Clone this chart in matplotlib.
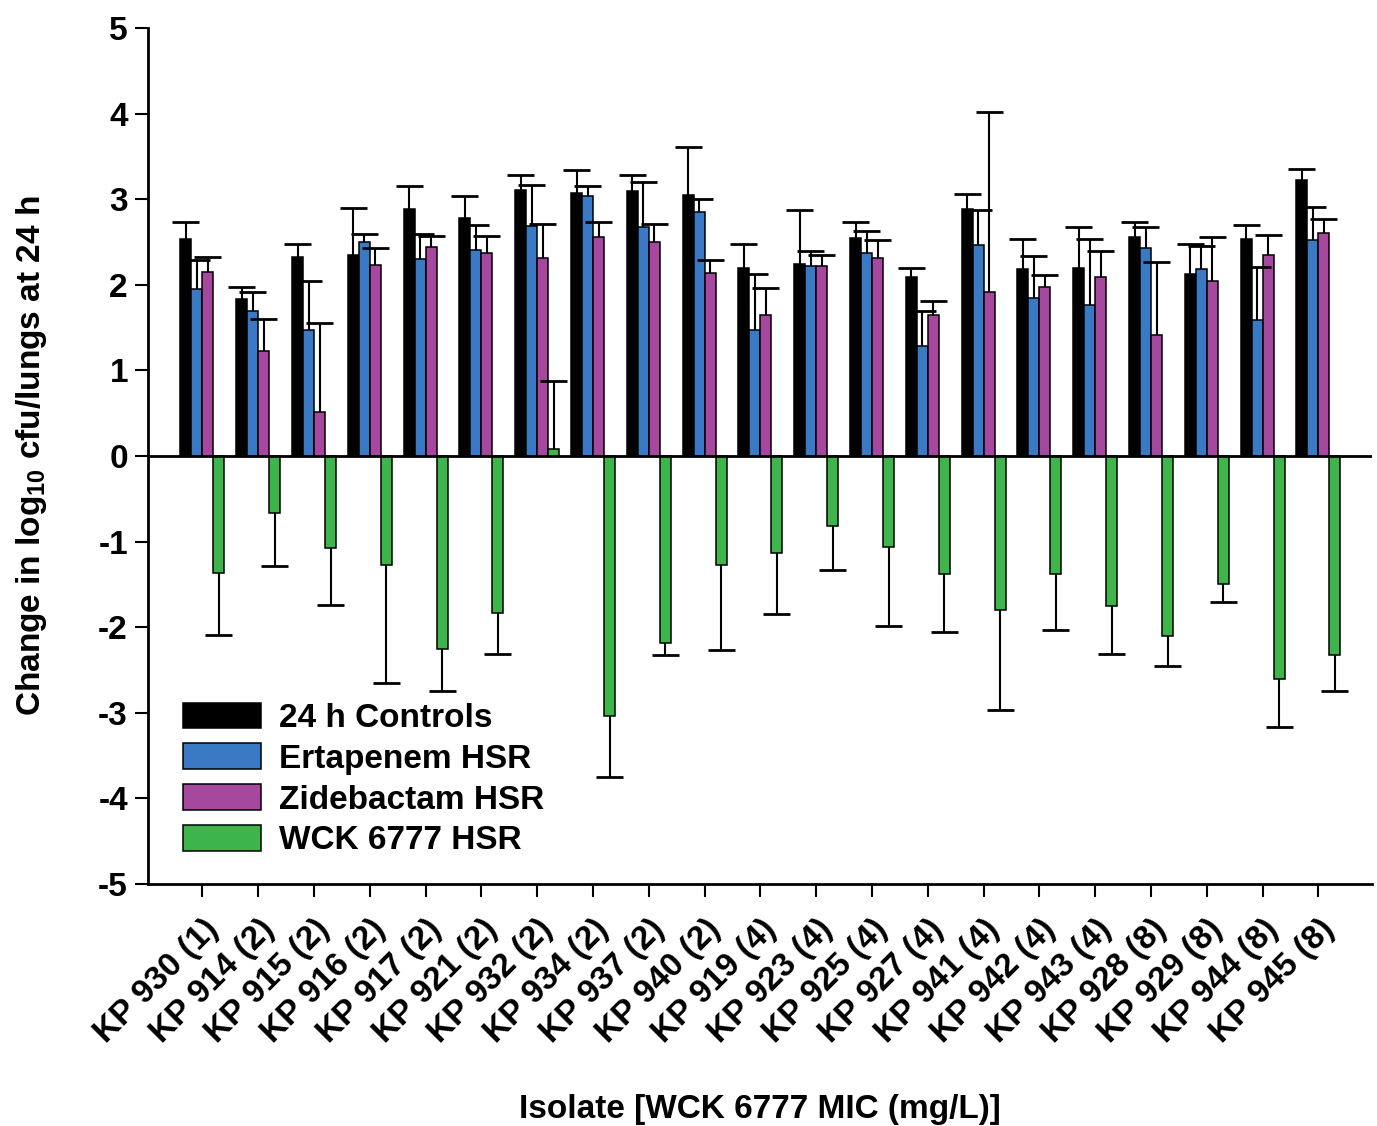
import matplotlib
matplotlib.use("Agg")
import matplotlib.pyplot as plt
import numpy as np

plt.rcParams['font.family'] = ['Liberation Sans', 'DejaVu Sans']
plt.rcParams['font.weight'] = 'bold'
plt.rcParams['axes.unicode_minus'] = False
plt.rcParams['mathtext.fontset'] = 'custom'
plt.rcParams['mathtext.rm'] = 'Liberation Sans:bold'
plt.rcParams['mathtext.bf'] = 'Liberation Sans:bold'

isolates = ["KP 930 (1)", "KP 914 (2)", "KP 915 (2)", "KP 916 (2)", "KP 917 (2)",
            "KP 921 (2)", "KP 932 (2)", "KP 934 (2)", "KP 937 (2)", "KP 940 (2)",
            "KP 919 (4)", "KP 923 (4)", "KP 925 (4)", "KP 927 (4)", "KP 941 (4)",
            "KP 942 (4)", "KP 943 (4)", "KP 928 (8)", "KP 929 (8)", "KP 944 (8)",
            "KP 945 (8)"]

series_names = ["24 h Controls", "Ertapenem HSR", "Zidebactam HSR", "WCK 6777 HSR"]

controls = [2.53, 1.84, 2.33, 2.35, 2.89, 2.78, 3.11, 3.07, 3.10, 3.05, 2.20,
            2.24, 2.55, 2.09, 2.89, 2.18, 2.20, 2.56, 2.13, 2.54, 3.22]
controls_sd = [0.20, 0.13, 0.15, 0.55, 0.26, 0.26, 0.17, 0.27, 0.18, 0.56, 0.28,
               0.63, 0.18, 0.11, 0.17, 0.35, 0.47, 0.17, 0.35, 0.16, 0.13]

ertapenem = [1.95, 1.70, 1.47, 2.50, 2.30, 2.41, 2.69, 3.04, 2.68, 2.85, 1.47,
             2.22, 2.37, 1.29, 2.47, 1.85, 1.76, 2.43, 2.18, 1.59, 2.52]
ertapenem_sd = [0.34, 0.22, 0.57, 0.09, 0.29, 0.29, 0.48, 0.11, 0.52, 0.15, 0.66,
                0.17, 0.26, 0.40, 0.41, 0.49, 0.77, 0.25, 0.27, 0.62, 0.39]

zidebactam = [2.15, 1.23, 0.52, 2.23, 2.44, 2.37, 2.31, 2.56, 2.50, 2.14, 1.65,
              2.22, 2.31, 1.65, 1.92, 1.97, 2.09, 1.41, 2.04, 2.35, 2.61]
zidebactam_sd = [0.17, 0.37, 1.03, 0.20, 0.13, 0.20, 0.40, 0.17, 0.21, 0.15, 0.31,
                 0.13, 0.21, 0.16, 2.10, 0.14, 0.30, 0.86, 0.52, 0.23, 0.16]

wck6777 = [-1.37, -0.66, -1.07, -1.27, -2.26, -1.83, 0.08, -3.04, -2.19, -1.27, -1.13,
           -0.82, -1.06, -1.38, -1.80, -1.38, -1.75, -2.10, -1.49, -2.60, -2.32]
wck6777_sd = [0.72, 0.62, 0.67, 1.38, 0.49, 0.48, 0.80, 0.71, 0.13, 1.00, 0.72,
              0.51, 0.93, 0.68, 1.17, 0.65, 0.56, 0.35, 0.21, 0.56, 0.43]

colors = ["#000000", "#3a7ac4", "#a7489f", "#3db54a"]

means = [controls, ertapenem, zidebactam, wck6777]
sds = [controls_sd, ertapenem_sd, zidebactam_sd, wck6777_sd]

fig = plt.figure(figsize=(13.77, 11.26), dpi=100)
ax = fig.add_axes([0.1075, 0.2149, 0.9964 - 0.1075, 0.9751 - 0.2149])

x = np.arange(len(isolates))
width = 0.197
cap = 0.242

for k in range(4):
    m = np.array(means[k])
    s = np.array(sds[k])
    pos = x + (k - 1.5) * width
    ax.bar(pos, m, width, color=colors[k], edgecolor="black", linewidth=1.1,
           label=series_names[k], zorder=2)
    # one-sided error bars, pointing away from zero
    end = np.where(m >= 0, m + s, m - s)
    ax.vlines(pos, m, end, colors="black", linewidth=1.5, zorder=3)
    ax.hlines(end, pos - cap, pos + cap, colors="black", linewidth=2.0, zorder=3)

ax.axhline(0, color="black", linewidth=2.0, zorder=4)

ax.set_xlim(-0.975, 20.96)
ax.set_ylim(-5, 5)
ax.set_yticks(np.arange(-5, 6, 1))
ax.set_xticks(x)
ax.set_xticklabels(isolates, rotation=45, ha="right", va="top",
                   rotation_mode="anchor", fontsize=24, fontweight="bold")
ax.tick_params(axis="y", labelsize=24, length=9.5, width=1.5, pad=5, direction="out")
ax.tick_params(axis="x", length=9.5, width=1.5, pad=12, direction="out")
for lab in ax.get_yticklabels():
    lab.set_fontweight("bold")

for side in ["top", "right"]:
    ax.spines[side].set_visible(False)
for side in ["left", "bottom"]:
    ax.spines[side].set_linewidth(2.0)

ax.set_ylabel(r"Change in log$_{10}$ cfu/lungs at 24 h", fontsize=24, fontweight="bold")
ax.yaxis.set_label_coords(-0.081, 0.5)
ax.set_xlabel("Isolate [WCK 6777 MIC (mg/L)]", fontsize=24, fontweight="bold")
ax.xaxis.set_label_coords(0.5, -0.245)

leg = ax.legend(loc="upper left", bbox_to_anchor=(0.0286, 0.212), frameon=False,
                fontsize=24, handlelength=2.34, handleheight=0.81,
                handletextpad=0.54, labelspacing=0.28, borderpad=0,
                borderaxespad=0)
for t in leg.get_texts():
    t.set_fontweight("bold")

fig.savefig("out.png", dpi=100)
